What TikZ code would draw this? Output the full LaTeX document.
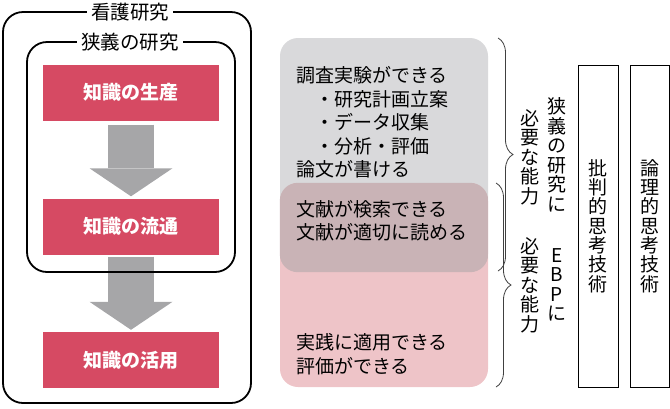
\documentclass[tikz,border=0pt]{standalone}
\usepackage{fontspec}
\setmainfont{Noto Sans CJK JP}
\usepackage{xcolor}
\usepackage{tikz}
\usetikzlibrary{arrows.meta, positioning, decorations.pathreplacing}

\definecolor{knowred}{HTML}{D64A63}
\definecolor{arrowgray}{HTML}{A6A6A8}
\definecolor{panelgray}{HTML}{D9D9DB}
\definecolor{panelpink}{HTML}{EEC4C8}
\definecolor{panelmix}{HTML}{C9B3B6}

\begin{document}
\begin{tikzpicture}[
        x=1pt, y=-1pt,
        know/.style={
            rectangle,
            fill=knowred,
            text=white,
            minimum width=176pt,
            minimum height=56pt,
            font=\fontsize{19}{20}\selectfont\bfseries
        },
        frame/.style={
            draw=black,
            line width=1.8pt,
            rounded corners=20pt
        },
        title/.style={
            fill=white,
            inner xsep=4pt,
            inner ysep=1pt,
            font=\fontsize{19.5}{20}\selectfont
        },
        flow/.style={
            draw=arrowgray,
            line width=46pt,
            -{Triangle[length=28pt, width=83pt, line width=0pt]}
        },
        panel/.style={
            rectangle,
            rounded corners=18pt,
            minimum width=208pt
        },
        lines/.style={
            anchor=west,
            align=left,
            inner sep=0pt,
            font=\fontsize{19}{23.5}\selectfont
        },
        tate/.style={
            align=center,
            inner sep=0pt,
            font=\fontsize{19}{19.5}\selectfont
        },
        tbox/.style={
            draw,
            line width=0.8pt,
            minimum height=322pt,
            align=center,
            font=\fontsize{19}{19.3}\selectfont
        },
        brace/.style={
            draw=black!75,
            line width=0.8pt,
            decorate,
            decoration={brace, amplitude=15pt, aspect=0.5}
        }
    ]
        \useasboundingbox (0,0) rectangle (670,408);

        % Knowledge boxes
        \node [know] (prod) at (131,92.5) {知識の生産};
        \node [know] (dist) at (131,226.5) {知識の流通};
        \node [know] (use) at (131,360) {知識の活用};

        % Flow arrows
        \draw [flow, shorten <=4pt, shorten >=2pt] (prod.south) -- (dist.north);
        \draw [flow, shorten <=2pt, shorten >=2pt] (dist.south) -- (use.north);

        % Frames
        \draw [frame] (27,42) rectangle (235,272);
        \draw [frame] (3,12) rectangle (251,403);
        \node [title] (nurs) at (130,12) {看護研究};
        \node [title] (narrow) at (130,42) {狭義の研究};

        % Panels
        \node [panel, fill=panelgray, minimum height=234pt] (gpan) at (384,155) {};
        \node [panel, fill=panelpink, minimum height=204pt] (ppan) at (384,285) {};
        \begin{scope}
            \clip [rounded corners=18pt] (gpan.north west) rectangle (gpan.south east);
            \fill [panelmix, rounded corners=18pt] (ppan.north west) rectangle (ppan.south east);
        \end{scope}

        \node [lines] (skill) at (296,122.5) {調査実験ができる\\
            \hspace*{1em}・研究計画立案\\
            \hspace*{1em}・データ収集\\
            \hspace*{1em}・分析・評価\\
            論文が書ける};
        \node [lines] (lit) at (296,221) {文献が検索できる\\文献が適切に読める};
        \node [lines] (prac) at (296,354) {実践に適用できる\\評価ができる};

        % Braces
        \coordinate (b1top) at (498,38);
        \coordinate (b1bot) at (498,271);
        \coordinate (b2top) at (496,183);
        \coordinate (b2bot) at (496,387);
        \draw [brace] (b1top) -- (b1bot);
        \draw [brace] (b2top) -- (b2bot);

        % Vertical labels
        \node [tate] (nra) at (557,155) {狭\\義\\の\\研\\究\\に};
        \node [tate] (nrb) at (530,157) {必\\要\\な\\能\\力};
        \node [tate] (ebpa) at (557,285) {E\\B\\P\\に};
        \node [tate] (ebpb) at (530,285) {必\\要\\な\\能\\力};

        % Thinking skills
        \node [tbox, minimum width=40pt] (crit) at (598,226) {批\\判\\的\\思\\考\\技\\術};
        \node [tbox, minimum width=39pt] (logic) at (649.5,226) {論\\理\\的\\思\\考\\技\\術};

    \end{tikzpicture}
\end{document}
